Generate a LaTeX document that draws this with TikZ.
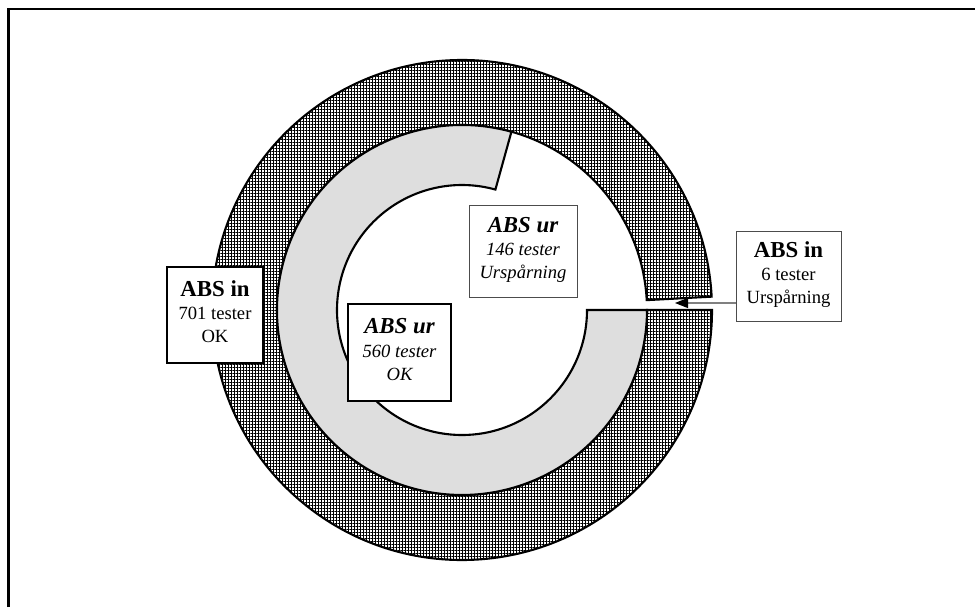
\documentclass[tikz,border=0pt]{standalone}
\usepackage{fontspec}
\setmainfont{Liberation Serif}
\usepackage{tikz}
\usetikzlibrary{arrows.meta}
\usetikzlibrary{patterns.meta}
\usetikzlibrary{positioning}

\newcommand{\headsize}{\fontsize{13}{16}\selectfont}

\tikzset{
  darkring/.style={draw, line width=1.2pt,
    preaction={fill=white},
    preaction={pattern={Lines[angle=0, distance=0.06cm, line width=0.019cm]}},
    pattern={Lines[angle=90, distance=0.06cm, line width=0.019cm]}},
  lightring/.style={draw, line width=1.2pt, fill=black!13},
  okbox/.style={draw, rectangle, fill=white, line width=1.3pt, inner sep=0pt,
    font=\fontsize{10.6}{13.2}\selectfont},
  failbox/.style={draw=black!70, rectangle, fill=white, line width=0.5pt, inner sep=0pt,
    font=\fontsize{10.6}{13.2}\selectfont}
}

\begin{document}
\begin{tikzpicture}
    \useasboundingbox (0,0) rectangle (19.5,12.14);
    \draw[line width=1.3pt] (0.17,0) -- (0.17,11.96) -- (19.5,11.96);

    \coordinate (c) at (9.24,5.94);

    % outer ring: ABS in
    \path[darkring] ([shift={(3.06:5)}]c) arc[start angle=3.06, end angle=360, radius=5]
      -- ([shift={(0:3.7)}]c) arc[start angle=360, end angle=3.06, radius=3.7] -- cycle;

    % inner ring: ABS ur
    \path[lightring] ([shift={(74.5:3.7)}]c) arc[start angle=74.5, end angle=360, radius=3.7]
      -- ([shift={(0:2.5)}]c) arc[start angle=360, end angle=74.5, radius=2.5] -- cycle;

    \node(1) [okbox, minimum width=1.92cm, minimum height=1.92cm] at (4.30,5.84) {
      \begin{tabular}{c}
        {\headsize\bfseries ABS in} \\
        701 tester \\
        OK
      \end{tabular}
    };

    \node(2) [okbox, minimum width=2.06cm, minimum height=1.94cm] at (7.99,5.09) {
      \begin{tabular}{c}
        {\headsize\bfseries\itshape ABS ur} \\
        \itshape 560 tester \\
        \itshape OK
      \end{tabular}
    };

    \node(3) [failbox, minimum width=2.16cm, minimum height=1.84cm] at (10.46,7.12) {
      \begin{tabular}{c}
        {\headsize\bfseries\itshape ABS ur} \\
        \itshape 146 tester \\
        \itshape Urspårning
      \end{tabular}
    };

    \node(4) [failbox, minimum width=1.98cm, minimum height=1.80cm] at (15.77,6.62) {
      \begin{tabular}{c}
        {\headsize\bfseries ABS in} \\
        6 tester \\
        Urspårning
      \end{tabular}
    };

    \coordinate (gap) at (13.50,6.08);
    \draw[gray, line width=0.6pt, -{Triangle[length=2.6mm, width=2mm, color=black]}] (4.west |- gap) -- (gap);
\end{tikzpicture}
\end{document}
